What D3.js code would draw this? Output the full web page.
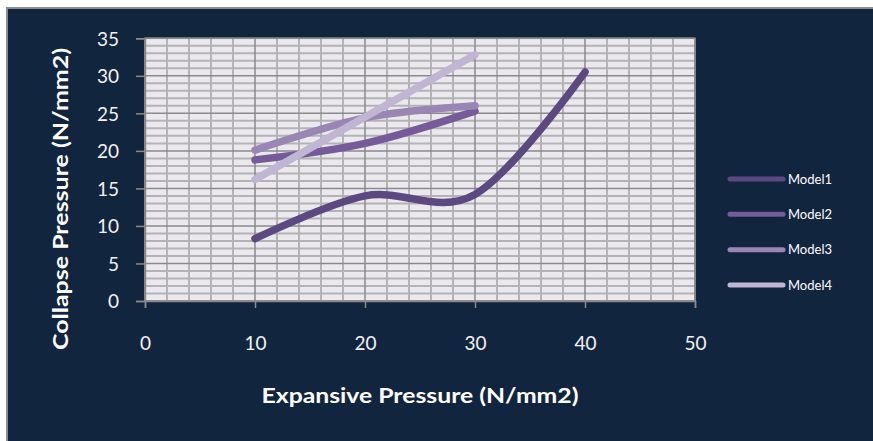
<!DOCTYPE html>
<html>
<head>
<meta charset="utf-8">
<script src="https://cdn.jsdelivr.net/npm/d3@7"></script>
<style>
  html, body { margin: 0; padding: 0; background: #ffffff; }
  svg { display: block; }
  text { font-family: Lato, "Open Sans", sans-serif; }
</style>
</head>
<body>
<svg id="chart" width="873" height="441"></svg>
<script>
// Collapse pressure vs expansive pressure for four models
const seriesNames = ["Model1", "Model2", "Model3", "Model4"];
const model1X = [10, 20, 30, 40];
const model1Y = [8.3, 14.0, 14.2, 30.5];
const model2X = [10, 20, 30];
const model2Y = [18.8, 21.0, 25.3];
const model3X = [10, 20, 30];
const model3Y = [20.1, 24.4, 26.0];
const model4X = [10, 20, 30];
const model4Y = [16.2, 24.5, 32.8];
const xTicks = [0, 10, 20, 30, 40, 50];
const yTicks = [0, 5, 10, 15, 20, 25, 30, 35];
const xTitle = "Expansive Pressure (N/mm2)";
const yTitle = "Collapse Pressure (N/mm2)";

const seriesColors = ["#5d4982", "#765a99", "#9a86b4", "#c0b6d3"];
const series = [
  { name: seriesNames[0], xs: model1X, ys: model1Y },
  { name: seriesNames[1], xs: model2X, ys: model2Y },
  { name: seriesNames[2], xs: model3X, ys: model3Y },
  { name: seriesNames[3], xs: model4X, ys: model4Y }
];

const svg = d3.select("#chart");
const W = 873, H = 441;

// frame
svg.append("rect").attr("x", 0).attr("y", 0).attr("width", W).attr("height", H).attr("fill", "#ffffff");
svg.append("rect").attr("x", 6).attr("y", 7).attr("width", W - 6).attr("height", H - 7).attr("fill", "#8c8c8c");
svg.append("rect").attr("x", 8).attr("y", 9).attr("width", W - 8).attr("height", H - 9).attr("fill", "#12253f");

const plot = { left: 145, right: 695, top: 38.3, bottom: 301 };
const x = d3.scaleLinear().domain([0, 50]).range([plot.left, plot.right]);
const y = d3.scaleLinear().domain([0, 35]).range([plot.bottom, plot.top]);

// plot background
svg.append("rect")
  .attr("x", plot.left).attr("y", plot.top)
  .attr("width", plot.right - plot.left).attr("height", plot.bottom - plot.top)
  .attr("fill", "#ebe8ee");

const grid = svg.append("g");
// minor grid
const minorX = d3.range(0, 51, 2).filter(v => v % 10 !== 0);
const minorY = d3.range(0, 36, 1).filter(v => v % 5 !== 0);
grid.selectAll(".mx").data(minorX).join("line")
  .attr("x1", d => x(d)).attr("x2", d => x(d))
  .attr("y1", plot.top).attr("y2", plot.bottom)
  .attr("stroke", "#b3b3b3").attr("stroke-width", 2);
grid.selectAll(".my").data(minorY).join("line")
  .attr("x1", plot.left).attr("x2", plot.right)
  .attr("y1", d => y(d)).attr("y2", d => y(d))
  .attr("stroke", "#b3b3b3").attr("stroke-width", 2);
// major grid
grid.selectAll(".Mx").data(xTicks).join("line")
  .attr("x1", d => x(d)).attr("x2", d => x(d))
  .attr("y1", plot.top).attr("y2", plot.bottom)
  .attr("stroke", "#8a8a8a").attr("stroke-width", 1.5);
grid.selectAll(".My").data(yTicks).join("line")
  .attr("x1", plot.left).attr("x2", plot.right)
  .attr("y1", d => y(d)).attr("y2", d => y(d))
  .attr("stroke", "#8a8a8a").attr("stroke-width", 1.5);
svg.append("rect")
  .attr("x", plot.left).attr("y", plot.top)
  .attr("width", plot.right - plot.left).attr("height", plot.bottom - plot.top)
  .attr("fill", "none").attr("stroke", "#8a8a8a").attr("stroke-width", 1.5);

// axes
const xAxis = d3.axisBottom(x).tickValues(xTicks).tickSize(7).tickPadding(29);
const yAxis = d3.axisLeft(y).tickValues(yTicks).tickSize(9).tickPadding(17);
const gx = svg.append("g").attr("transform", `translate(0,${plot.bottom})`).call(xAxis);
const gy = svg.append("g").attr("transform", `translate(${plot.left},0)`).call(yAxis);
[gx, gy].forEach(g => {
  g.select(".domain").attr("stroke", "#8a8a8a").attr("stroke-width", 1.5);
  g.selectAll(".tick line").attr("stroke", "#8a8a8a").attr("stroke-width", 1.5);
  g.selectAll(".tick text")
    .attr("fill", "#f2f2f2")
    .style("font-family", "Lato, sans-serif")
    .style("font-size", "19px");
});
gy.selectAll(".tick text").attr("dy", "0.36em");

// series lines
const line = d3.line()
  .x(d => x(d[0])).y(d => y(d[1]))
  .curve(d3.curveCardinal.tension(0));
svg.append("g").selectAll("path").data(series).join("path")
  .attr("d", s => line(s.xs.map((v, i) => [v, s.ys[i]])))
  .attr("fill", "none")
  .attr("stroke", (s, i) => seriesColors[i])
  .attr("stroke-width", 7.5)
  .attr("stroke-linecap", "round")
  .attr("stroke-linejoin", "round");

// axis titles
svg.append("text")
  .attr("x", 420).attr("y", 403)
  .attr("text-anchor", "middle")
  .attr("fill", "#ffffff")
  .attr("font-weight", "bold")
  .attr("font-size", 20)
  .attr("textLength", 317).attr("lengthAdjust", "spacingAndGlyphs")
  .text(xTitle);
svg.append("text")
  .attr("transform", "translate(68,199) rotate(-90)")
  .attr("text-anchor", "middle")
  .attr("fill", "#ffffff")
  .attr("font-weight", "bold")
  .attr("font-size", 20)
  .attr("textLength", 302).attr("lengthAdjust", "spacingAndGlyphs")
  .text(yTitle);

// legend
const legend = svg.append("g");
const legendY = d3.scalePoint().domain(seriesNames).range([179, 285]);
legend.selectAll("line").data(series).join("line")
  .attr("x1", 730).attr("x2", 783)
  .attr("y1", s => legendY(s.name)).attr("y2", s => legendY(s.name))
  .attr("stroke", (s, i) => seriesColors[i])
  .attr("stroke-width", 5)
  .attr("stroke-linecap", "round");
legend.selectAll("text").data(series).join("text")
  .attr("x", 788).attr("y", s => legendY(s.name))
  .attr("dy", "0.36em")
  .attr("fill", "#ffffff")
  .attr("font-size", 13)
  .text(s => s.name);
</script>
</body>
</html>
